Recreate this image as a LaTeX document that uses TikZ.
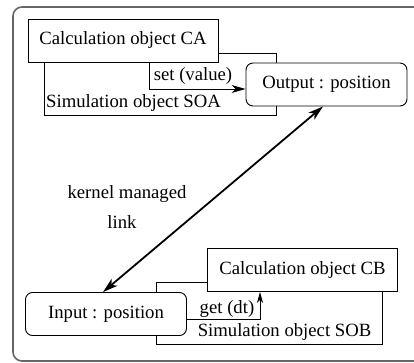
\documentclass[tikz,border=0pt]{standalone}
\usepackage{fontspec}
\setmainfont{Liberation Serif}
\usetikzlibrary{calc, arrows.meta}
\tikzstyle{objbox} = [draw, rectangle, fill=white, minimum width=190pt, minimum height=43pt, inner sep=0pt]
\tikzstyle{port} = [draw, rectangle, fill=white, rounded corners=7pt, minimum width=161pt, minimum height=43pt, inner sep=0pt]
\tikzstyle{lbl} = [inner sep=0pt]
\tikzstyle{tip} = [-{Stealth[length=14pt, width=8pt, inset=4pt]}]

\begin{document}
\begin{tikzpicture}[x=1pt, y=-1pt, line width=0.9pt, every node/.style={font=\fontsize{18.7}{22}\selectfont}]
    \useasboundingbox (0,0) rectangle (414,363);
    \draw [gray!80!black, line width=1.6pt, rounded corners=9pt] (13,7) rectangle (430,361);
    % first simulation object
    \draw (123,40.5) node[objbox] (ca) {Calculation object CA};
    \draw (ca.east |- 0,53) -- (276,53) -- (276,115) -- (44,115) -- (44,62);
    \draw (326.5,84.5) node[port] (out) {Output : position};
    \node[lbl] (soa) at (133.5,103) {Simulation object SOA};
    \coordinate (setc) at (149,62);
    \draw [tip] (setc) |- (out.west |- 0,89);
    \node[lbl] (set) at (193,76) {set (value)};
    % second simulation object
    \draw (302.5,270) node[objbox] (cb) {Calculation object CB};
    \draw (cb.west |- 0,282) -- (156,282) -- (156,344) -- (382,344) -- (382,292);
    \draw (106,314) node[port] (in) {Input : position};
    \node[lbl] (sob) at (284.5,332) {Simulation object SOB};
    \draw [-{Stealth[length=11pt, width=6pt, inset=3pt]}] (in.east |- 0,319) -| (cb.south -| 260,0);
    \node[lbl] (get) at (227,309) {get (dt)};
    % kernel link
    \draw [{Stealth[length=15pt, width=9pt, inset=4pt]}-{Stealth[length=15pt, width=9pt, inset=4pt]}, line width=1.8pt] (in.north -| 103,0) -- (out.south -| 323,0);
    \node[lbl] (kml) at (127,194) {kernel managed};
    \node[lbl] (klink) at (122,222) {link};
\end{tikzpicture}
\end{document}
